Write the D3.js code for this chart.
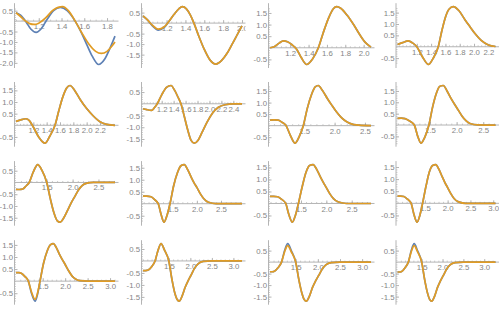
<!DOCTYPE html>
<html>
<head>
<meta charset="utf-8">
<script src="https://cdn.jsdelivr.net/npm/d3@7"></script>
<style>
body { margin: 0; background: #fff; }
svg { display: block; }
.lbl { font-family: "Liberation Sans", Arial, sans-serif; font-size: 7.8px; fill: #858585; }
</style>
</head>
<body>
<div id="grid"></div>
<script>
// Series values, one pair list [x, y] per curve and panel
var blue1 = [[1.0,0.40],[1.04,0.28],[1.09,-0.05],[1.13,-0.38],[1.177,-0.54],[1.22,-0.38],[1.27,0.05],[1.33,0.5],[1.39,0.66],[1.45,0.5],[1.52,0.0],[1.57,-0.5],[1.62,-1.1],[1.67,-1.68],[1.726,-2.08],[1.78,-1.82],[1.83,-1.25],[1.87,-0.72]];
var orange1 = [[1.0,0.40],[1.04,0.22],[1.08,0.02],[1.12,-0.12],[1.16,-0.16],[1.2,-0.1],[1.26,0.15],[1.32,0.5],[1.37,0.66],[1.41,0.69],[1.46,0.5],[1.52,0.0],[1.58,-0.58],[1.64,-1.1],[1.7,-1.45],[1.75,-1.55],[1.8,-1.45],[1.84,-1.22],[1.87,-1.0]];

var blue2 = [[0.95,0.34],[1.0,0.14],[1.05,-0.13],[1.112,-0.33],[1.17,-0.23],[1.22,0.05],[1.28,0.42],[1.33,0.68],[1.367,0.78],[1.41,0.68],[1.45,0.4],[1.49,0.0],[1.54,-0.6],[1.6,-1.25],[1.66,-1.75],[1.724,-1.95],[1.78,-1.8],[1.84,-1.45],[1.89,-1.05],[1.95,-0.55],[2.0,-0.13]];
var orange2 = [[0.95,0.34],[1.0,0.14],[1.05,-0.1],[1.112,-0.29],[1.17,-0.2],[1.22,0.05],[1.28,0.42],[1.33,0.68],[1.367,0.78],[1.41,0.68],[1.45,0.4],[1.49,0.0],[1.54,-0.6],[1.6,-1.25],[1.66,-1.75],[1.724,-1.95],[1.78,-1.8],[1.84,-1.45],[1.89,-1.05],[1.95,-0.55],[2.0,-0.13]];

var orange3 = [[0.98,0.0],[1.03,0.06],[1.08,0.2],[1.125,0.3],[1.17,0.26],[1.22,0.13],[1.27,-0.06],[1.32,-0.42],[1.38,-0.72],[1.44,-0.5],[1.507,0.0],[1.56,0.65],[1.62,1.3],[1.67,1.68],[1.707,1.77],[1.75,1.7],[1.82,1.4],[1.89,1.0],[1.96,0.55],[2.02,0.22],[2.08,0.03]];
var blue3 = orange3;

var orange4 = [[0.93,0.1],[1.0,0.18],[1.08,0.26],[1.14,0.17],[1.2,0.0],[1.28,-0.45],[1.362,-0.78],[1.43,-0.5],[1.5,0.0],[1.55,0.7],[1.6,1.3],[1.65,1.65],[1.71,1.76],[1.79,1.58],[1.875,1.18],[1.95,0.85],[2.01,0.59],[2.1,0.28],[2.2,0.08],[2.3,0.01]];
var blue4 = orange4;

var orange5 = [[0.94,0.17],[1.0,0.22],[1.09,0.28],[1.14,0.2],[1.185,0.0],[1.28,-0.5],[1.375,-0.77],[1.45,-0.45],[1.525,0.0],[1.58,0.6],[1.64,1.2],[1.7,1.6],[1.75,1.71],[1.82,1.5],[1.9,1.12],[2.0,0.72],[2.1,0.4],[2.2,0.15],[2.3,0.04],[2.425,0.0]];
var blue5 = orange5;

var orange6 = [[0.887,-0.21],[0.95,-0.25],[1.03,-0.28],[1.08,-0.16],[1.126,0.0],[1.2,0.38],[1.28,0.7],[1.356,0.78],[1.42,0.56],[1.47,0.3],[1.523,0.0],[1.58,-0.55],[1.64,-1.15],[1.69,-1.55],[1.746,-1.68],[1.81,-1.55],[1.88,-1.2],[1.96,-0.78],[2.05,-0.4],[2.15,-0.15],[2.26,-0.04],[2.4,0.0],[2.545,0.0]];
var blue6 = orange6;

var orange7 = [[0.935,0.24],[1.0,0.25],[1.07,0.24],[1.13,0.15],[1.2,0.0],[1.27,-0.42],[1.347,-0.76],[1.42,-0.45],[1.484,0.0],[1.55,0.75],[1.62,1.35],[1.68,1.68],[1.73,1.74],[1.8,1.52],[1.88,1.18],[1.95,0.9],[2.03,0.6],[2.1,0.38],[2.18,0.2],[2.25,0.1],[2.4,0.02],[2.6,0.0]];
var blue7 = orange7;

var orange8 = [[0.89,0.29],[0.96,0.3],[1.03,0.28],[1.1,0.2],[1.205,0.0],[1.27,-0.5],[1.33,-0.8],[1.4,-0.55],[1.48,0.0],[1.55,0.8],[1.62,1.4],[1.68,1.7],[1.75,1.74],[1.82,1.5],[1.9,1.15],[1.97,0.88],[2.03,0.66],[2.1,0.4],[2.18,0.18],[2.25,0.07],[2.4,0.01],[2.73,0.0]];
var blue8 = orange8;

var orange9 = [[0.905,-0.29],[0.97,-0.3],[1.035,-0.28],[1.1,-0.15],[1.16,0.0],[1.24,0.45],[1.326,0.76],[1.41,0.5],[1.5,0.0],[1.57,-0.7],[1.64,-1.3],[1.7,-1.62],[1.758,-1.69],[1.83,-1.5],[1.9,-1.2],[1.97,-0.88],[2.05,-0.57],[2.12,-0.3],[2.19,-0.12],[2.26,-0.04],[2.4,0.0],[2.82,0.0]];
var blue9 = orange9;

var orange10 = [[0.885,0.32],[0.96,0.32],[1.05,0.29],[1.12,0.18],[1.2,0.0],[1.26,-0.45],[1.32,-0.77],[1.38,-0.5],[1.444,0.0],[1.52,0.75],[1.6,1.3],[1.67,1.58],[1.74,1.63],[1.81,1.42],[1.88,1.12],[1.94,0.88],[2.0,0.68],[2.07,0.42],[2.14,0.22],[2.24,0.06],[2.4,0.0],[2.935,0.0]];
var blue10 = orange10;

var orange11 = [[0.89,0.3],[0.96,0.3],[1.04,0.28],[1.12,0.17],[1.2,0.0],[1.26,-0.45],[1.33,-0.78],[1.39,-0.5],[1.45,0.0],[1.53,0.75],[1.6,1.3],[1.67,1.58],[1.74,1.62],[1.81,1.42],[1.88,1.12],[1.94,0.88],[2.0,0.66],[2.07,0.4],[2.14,0.2],[2.24,0.06],[2.4,0.0],[2.88,0.0]];
var blue11 = orange11;

var orange12 = [[0.9,0.3],[0.97,0.3],[1.04,0.28],[1.12,0.17],[1.2,0.0],[1.26,-0.45],[1.33,-0.78],[1.39,-0.5],[1.45,0.0],[1.53,0.75],[1.6,1.3],[1.67,1.56],[1.74,1.6],[1.81,1.4],[1.88,1.1],[1.94,0.86],[2.0,0.65],[2.07,0.4],[2.14,0.2],[2.24,0.06],[2.4,0.0],[3.05,0.0]];
var blue12 = orange12;

var orange13 = [[0.905,0.35],[0.97,0.35],[1.03,0.32],[1.1,0.2],[1.18,0.0],[1.25,-0.45],[1.33,-0.76],[1.39,-0.45],[1.44,0.0],[1.52,0.75],[1.6,1.25],[1.67,1.5],[1.736,1.55],[1.8,1.4],[1.87,1.12],[1.94,0.88],[2.0,0.69],[2.08,0.42],[2.16,0.2],[2.24,0.08],[2.33,0.02],[2.5,0.0],[3.11,0.0]];
var blue13 = [[0.905,0.35],[0.97,0.35],[1.03,0.32],[1.1,0.2],[1.18,0.0],[1.25,-0.5],[1.33,-0.83],[1.39,-0.5],[1.44,0.0],[1.52,0.75],[1.6,1.25],[1.67,1.5],[1.736,1.55],[1.8,1.4],[1.87,1.12],[1.94,0.88],[2.0,0.69],[2.08,0.42],[2.16,0.2],[2.24,0.08],[2.33,0.02],[2.5,0.0],[3.11,0.0]];

var orange14 = [[0.9,-0.4],[0.96,-0.4],[1.02,-0.38],[1.1,-0.24],[1.18,0.0],[1.25,0.45],[1.32,0.72],[1.4,0.45],[1.5,0.0],[1.57,-0.75],[1.64,-1.35],[1.69,-1.6],[1.74,-1.68],[1.81,-1.46],[1.88,-1.1],[1.95,-0.82],[2.02,-0.58],[2.1,-0.3],[2.18,-0.12],[2.3,-0.02],[2.5,0.0],[3.2,0.0]];
var blue14 = orange14;

var orange15 = [[0.92,-0.42],[0.97,-0.42],[1.02,-0.4],[1.1,-0.25],[1.18,0.0],[1.25,0.45],[1.32,0.72],[1.4,0.45],[1.5,0.0],[1.57,-0.75],[1.64,-1.35],[1.69,-1.62],[1.74,-1.7],[1.81,-1.48],[1.88,-1.1],[1.95,-0.82],[2.02,-0.58],[2.1,-0.3],[2.18,-0.12],[2.3,-0.02],[2.5,0.0],[3.2,0.0]];
var blue15 = [[0.92,-0.42],[0.97,-0.42],[1.02,-0.4],[1.1,-0.25],[1.18,0.0],[1.25,0.5],[1.32,0.8],[1.4,0.5],[1.5,0.0],[1.57,-0.75],[1.64,-1.35],[1.69,-1.62],[1.74,-1.7],[1.81,-1.48],[1.88,-1.1],[1.95,-0.82],[2.02,-0.58],[2.1,-0.3],[2.18,-0.12],[2.3,-0.02],[2.5,0.0],[3.2,0.0]];

var orange16 = [[0.92,-0.43],[0.97,-0.43],[1.02,-0.41],[1.1,-0.25],[1.18,0.0],[1.25,0.45],[1.32,0.72],[1.4,0.45],[1.5,0.0],[1.57,-0.75],[1.64,-1.35],[1.69,-1.62],[1.74,-1.7],[1.81,-1.48],[1.88,-1.1],[1.95,-0.82],[2.02,-0.58],[2.1,-0.3],[2.18,-0.12],[2.3,-0.02],[2.5,0.0],[3.27,0.0]];
var blue16 = [[0.92,-0.43],[0.97,-0.43],[1.02,-0.41],[1.1,-0.25],[1.18,0.0],[1.25,0.5],[1.32,0.8],[1.4,0.5],[1.5,0.0],[1.57,-0.75],[1.64,-1.35],[1.69,-1.62],[1.74,-1.7],[1.81,-1.48],[1.88,-1.1],[1.95,-0.82],[2.02,-0.58],[2.1,-0.3],[2.18,-0.12],[2.3,-0.02],[2.5,0.0],[3.27,0.0]];

// Plot ranges per panel
var xDomains = [[1.0,1.87],[0.95,2.0],[0.98,2.08],[0.93,2.3],
                [0.94,2.425],[0.887,2.545],[0.935,2.6],[0.89,2.73],
                [0.905,2.82],[0.885,2.935],[0.89,2.88],[0.9,3.05],
                [0.905,3.11],[0.9,3.2],[0.92,3.2],[0.92,3.27]];
var yDomains = [[-2.08,0.69],[-1.97,0.78],[-0.72,1.77],[-0.78,1.76],
                [-0.77,1.71],[-1.68,0.78],[-0.76,1.74],[-0.8,1.74],
                [-1.69,0.76],[-0.77,1.63],[-0.78,1.62],[-0.78,1.6],
                [-0.83,1.55],[-1.68,0.72],[-1.7,0.8],[-1.7,0.8]];

// Tick labels
var xTickVals = [[1.2,1.4,1.6,1.8],[1.2,1.4,1.6,1.8,2.0],[1.2,1.4,1.6,1.8,2.0],[1.2,1.4,1.6,1.8,2.0,2.2],
                 [1.2,1.4,1.6,1.8,2.0,2.2],[1.2,1.4,1.6,1.8,2.0,2.2,2.4],[1.5,2.0,2.5],[1.5,2.0,2.5],
                 [1.5,2.0,2.5],[1.5,2.0,2.5],[1.5,2.0,2.5],[1.5,2.0,2.5,3.0],
                 [1.5,2.0,2.5,3.0],[1.5,2.0,2.5,3.0],[1.5,2.0,2.5,3.0],[1.5,2.0,2.5,3.0]];
var yPos = [1.5,1.0,0.5,-0.5];
var yNeg = [0.5,-0.5,-1.0,-1.5];
var yTickVals = [[0.5,-0.5,-1.0,-1.5,-2.0],[0.5,-0.5,-1.0,-1.5],yPos,yPos,
                 yPos,yNeg,yPos,yPos,
                 yNeg,yPos,yPos,yPos,
                 yPos,yNeg,yNeg,yNeg];

var blues = [blue1,blue2,blue3,blue4,blue5,blue6,blue7,blue8,blue9,blue10,blue11,blue12,blue13,blue14,blue15,blue16];
var oranges = [orange1,orange2,orange3,orange4,orange5,orange6,orange7,orange8,orange9,orange10,orange11,orange12,orange13,orange14,orange15,orange16];

// Grid layout (pixel edges of each plot area)
var svgWidth = 500;
var svgHeight = 309;
var colLeft = [16, 143, 270, 397.5];
var colRight = [115, 242, 371, 495.5];
var rowTop = [6.7, 85.5, 164.6, 243.7];
var rowBottom = [64.5, 143.2, 222.2, 301.2];

var svg = d3.select("#grid")
    .append("svg")
    .attr("width", svgWidth)
    .attr("height", svgHeight);

var fmt = function(v) { return v.toFixed(1); };

function styleAxis(s, color) {
    s.select(".domain").remove();
    s.selectAll("line").attr("stroke", color);
    s.selectAll("text").attr("class", "lbl").attr("font-family", null).attr("font-size", null).attr("fill", null);
}

blues.forEach(function(blue, i) {
    var c = i % 4, r = Math.floor(i / 4);

    var xScale = d3.scaleLinear().domain(xDomains[i]).range([colLeft[c], colRight[c]]);
    var yScale = d3.scaleLinear().domain(yDomains[i]).range([rowBottom[r], rowTop[r]]);

    // clip each panel to its own cell
    svg.append("clipPath").attr("id", "cell" + i)
        .append("rect")
        .attr("x", colLeft[c] - 22)
        .attr("y", rowTop[r] - 6.7)
        .attr("width", colRight[c] - colLeft[c] + 25.5)
        .attr("height", 79);

    var g = svg.append("g").attr("clip-path", "url(#cell" + i + ")");

    var axX = colLeft[c] - 1.5;
    var axY = yScale(0);

    // minor ticks
    var xStep = xTickVals[i][1] - xTickVals[i][0];
    var xMinor = xStep > 0.3 ? 0.1 : 0.05;
    var xm = d3.range(Math.ceil(xDomains[i][0] / xMinor) * xMinor, xDomains[i][1], xMinor);
    var ym = d3.range(Math.ceil(yDomains[i][0] / 0.1) * 0.1, yDomains[i][1], 0.1);

    g.append("g")
        .attr("transform", `translate(0, ${axY})`)
        .call(d3.axisBottom(xScale).tickValues(xm).tickSizeInner(-1.5).tickSizeOuter(0).tickFormat(""))
        .call(styleAxis, "#cccccc");
    g.append("g")
        .attr("transform", `translate(${axX}, 0)`)
        .call(d3.axisLeft(yScale).tickValues(ym).tickSizeInner(-1.5).tickSizeOuter(0).tickFormat(""))
        .call(styleAxis, "#cccccc");

    // major ticks and labels
    g.append("g")
        .attr("transform", `translate(0, ${axY})`)
        .call(d3.axisBottom(xScale).tickValues(xTickVals[i]).tickSizeInner(-3).tickSizeOuter(0).tickPadding(2.5).tickFormat(fmt))
        .call(styleAxis, "#b4b4b4");
    g.append("g")
        .attr("transform", `translate(${axX}, 0)`)
        .call(d3.axisLeft(yScale).tickValues(yTickVals[i]).tickSizeInner(-3).tickSizeOuter(0).tickPadding(1.5).tickFormat(fmt))
        .call(styleAxis, "#b4b4b4");

    // axis lines
    g.append("line")
        .attr("x1", axX).attr("x2", colRight[c] + 4)
        .attr("y1", axY).attr("y2", axY)
        .attr("stroke", "#b4b4b4").attr("stroke-width", 1);
    g.append("line")
        .attr("x1", axX).attr("x2", axX)
        .attr("y1", rowTop[r] - 3.5).attr("y2", rowBottom[r] + 3.5)
        .attr("stroke", "#b4b4b4").attr("stroke-width", 1);

    // curves, blue first, orange over it
    var line = d3.line()
        .x(function(d) { return xScale(d[0]); })
        .y(function(d) { return yScale(d[1]); })
        .curve(d3.curveMonotoneX);

    g.append("path").datum(blue)
        .attr("d", line).attr("fill", "none")
        .attr("stroke", "#5E81B5").attr("stroke-width", 1.7)
        .attr("stroke-linejoin", "round");
    g.append("path").datum(oranges[i])
        .attr("d", line).attr("fill", "none")
        .attr("stroke", "#E19C24").attr("stroke-width", 1.7)
        .attr("stroke-linejoin", "round");
});
</script>
</body>
</html>
